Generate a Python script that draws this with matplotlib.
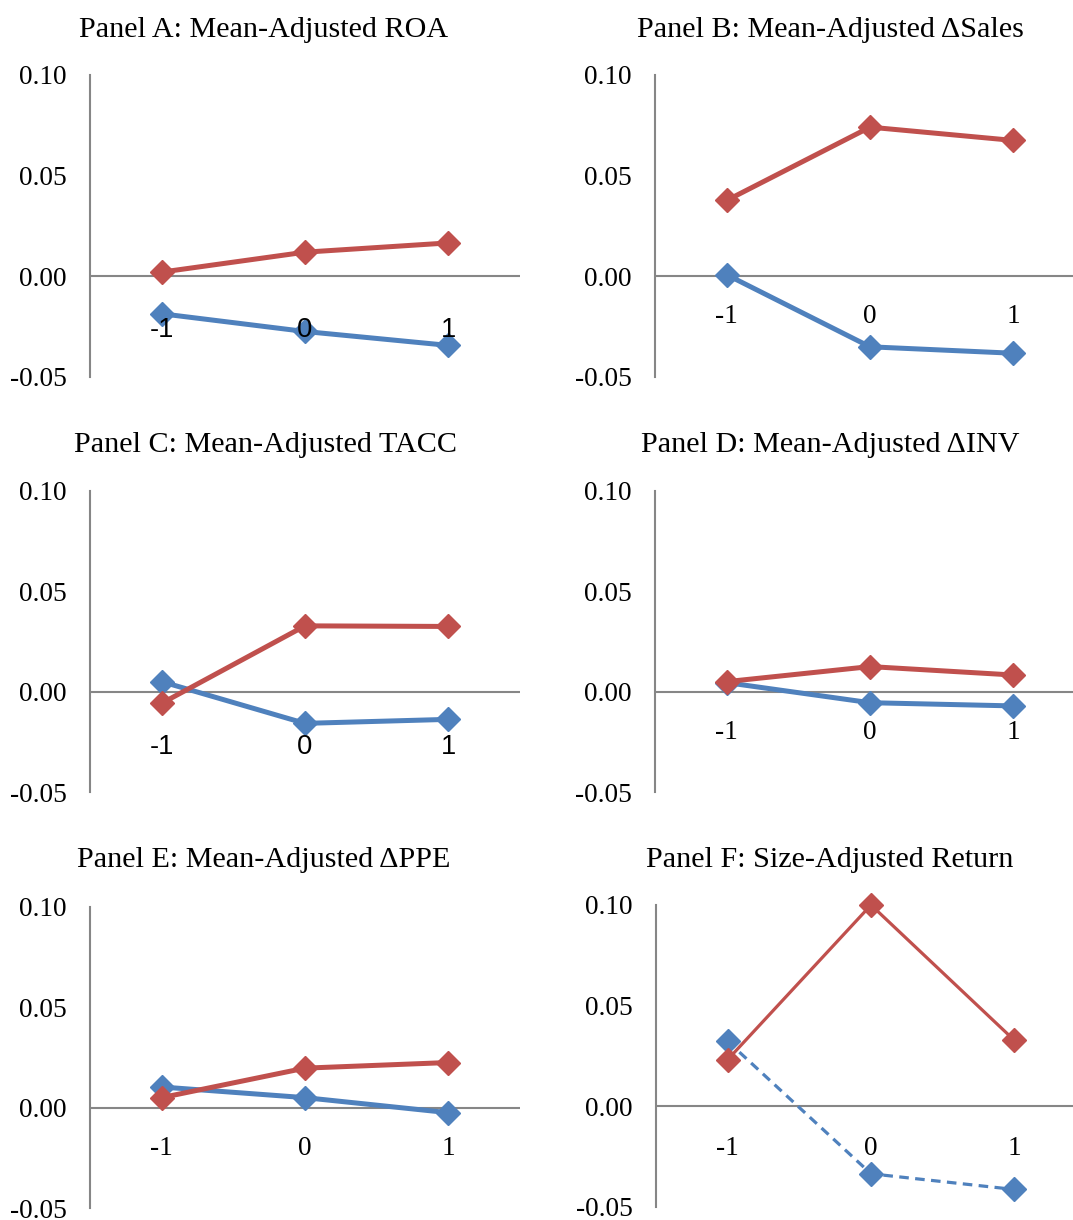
import numpy as np
import matplotlib
matplotlib.use("Agg")
import matplotlib.pyplot as plt

# category positions (years relative to event)
categories = ["-1", "0", "1"]

titles = [
    "Panel A: Mean-Adjusted ROA",
    "Panel B: Mean-Adjusted \u0394Sales",
    "Panel C: Mean-Adjusted TACC",
    "Panel D: Mean-Adjusted \u0394INV",
    "Panel E: Mean-Adjusted \u0394PPE",
    "Panel F: Size-Adjusted Return",
]

roa_red = [0.0021, 0.0120, 0.0166]
roa_blue = [-0.0186, -0.0274, -0.0343]
sales_red = [0.0377, 0.0741, 0.0675]
sales_blue = [0.0008, -0.0350, -0.0382]
tacc_red = [-0.0058, 0.0328, 0.0325]
tacc_blue = [0.0050, -0.0158, -0.0138]
inv_red = [0.0050, 0.0125, 0.0083]
inv_blue = [0.0045, -0.0055, -0.0071]
ppe_red = [0.0050, 0.0197, 0.0225]
ppe_blue = [0.0103, 0.0050, -0.0025]
ret_red = [0.0232, 0.1000, 0.0328]
ret_blue = [0.0323, -0.0335, -0.0413]

yticks = [-0.05, 0.00, 0.05, 0.10]
ytick_labels = ["-0.05", "0.00", "0.05", "0.10"]

RED = "#C0504D"
BLUE = "#4F81BD"
GRAY = "#868686"
W, H = 1073, 1220

def rect(l, t, w, h):
    return [l / W, 1 - (t + h) / H, w / W, h / H]

fig = plt.figure(figsize=(W / 100, H / 100), dpi=100)

panels = [
    # rect, red, blue, title pos, label font, label offset, thin
    ((90, 75, 430, 302), roa_red, roa_blue, (264, 37), "Liberation Sans", 54, False),
    ((655, 75, 430, 302), sales_red, sales_blue, (830, 37), "Liberation Serif", 40, False),
    ((90, 491, 430, 301), tacc_red, tacc_blue, (265, 452), "Liberation Sans", 55, False),
    ((655, 491, 430, 301), inv_red, inv_blue, (830, 452), "Liberation Serif", 41, False),
    ((90, 907, 430, 301), ppe_red, ppe_blue, (264, 867), "Liberation Serif", 41, False),
    ((656, 905, 430, 302), ret_red, ret_blue, (830, 867), "Liberation Serif", 42, True),
]

x = np.arange(len(categories))
for i, (r, red, blue, tpos, lfont, loff, thin) in enumerate(panels):
    ax = fig.add_axes(rect(*r))
    ax.set_xlim(-0.5, 2.5)
    ax.set_ylim(-0.05, 0.10)
    for s in ["top", "right", "bottom"]:
        ax.spines[s].set_visible(False)
    ax.spines["left"].set_color(GRAY)
    ax.spines["left"].set_linewidth(1.5)
    ax.axhline(0, color=GRAY, lw=1.5, zorder=1)

    if thin:
        ax.plot(x, blue, color=BLUE, lw=2.3, ls=(0, (3, 2)), marker="D", ms=12,
                zorder=3, clip_on=False)
        ax.plot(x, red, color=RED, lw=2.3, marker="D", ms=12, zorder=4, clip_on=False)
    else:
        ax.plot(x, blue, color=BLUE, lw=3.6, marker="D", ms=12, zorder=3, clip_on=False)
        ax.plot(x, red, color=RED, lw=3.6, marker="D", ms=12, zorder=4, clip_on=False)

    ax.set_xticks([])
    ax.set_yticks(yticks)
    ax.set_yticklabels(ytick_labels, family="Liberation Serif", fontsize=19.7)
    ax.tick_params(axis="y", length=0, pad=16.5)

    for xi, lab in zip(x, categories):
        ax.annotate(lab, (xi, 0), xytext=(0, -loff * 0.72), textcoords="offset points",
                    ha="center", va="center", family=lfont, fontsize=19.7, zorder=6)

    fig.text(tpos[0] / W, 1 - tpos[1] / H, titles[i], ha="center", va="baseline",
             family="Liberation Serif", fontsize=21.7)

fig.savefig("out.png", dpi=100)
